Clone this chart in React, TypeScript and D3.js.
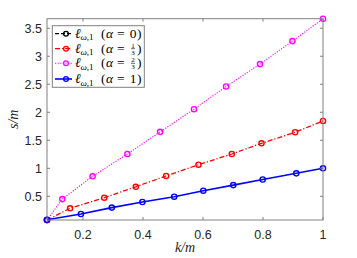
import React from 'react';
import * as d3 from 'd3';

// values (k/m, s/m)
const kAlpha0 = [0.08];
const sAlpha0 = [0.077];
const kAlpha13 = [0.08, 0.157, 0.271, 0.376, 0.477, 0.585, 0.696, 0.795, 0.907, 1.0];
const sAlpha13 = [0.077, 0.286, 0.475, 0.67, 0.863, 1.064, 1.255, 1.446, 1.643, 1.845];
const kAlpha23 = [0.08, 0.131, 0.232, 0.348, 0.457, 0.57, 0.677, 0.79, 0.898, 1.0];
const sAlpha23 = [0.077, 0.45, 0.857, 1.255, 1.65, 2.055, 2.46, 2.86, 3.27, 3.67];
const kAlpha1 = [0.08, 0.193, 0.296, 0.398, 0.504, 0.601, 0.701, 0.799, 0.911, 1.0];
const sAlpha1 = [0.08, 0.184, 0.298, 0.398, 0.493, 0.6, 0.7, 0.8, 0.91, 1.0];

const xTicks = [0.2, 0.4, 0.6, 0.8, 1];
const yTicks = [0.5, 1, 1.5, 2, 2.5, 3, 3.5];
const alphaNum = ['0', '1', '2', '1'];
const alphaDen = [null, '3', '3', null];

const width = 357;
const height = 258;
const left = 47, right = 323, top = 18.7, bottom = 220;

type Series = { k: number[]; s: number[]; color: string; dash: string; lw: number };

const series: Series[] = [
  { k: kAlpha0, s: sAlpha0, color: '#000000', dash: '4,2', lw: 1.3 },
  { k: kAlpha13, s: sAlpha13, color: '#ff0000', dash: '5,2,1.2,2', lw: 1.3 },
  { k: kAlpha23, s: sAlpha23, color: '#ff00ff', dash: '1.2,1.4', lw: 1.1 },
  { k: kAlpha1, s: sAlpha1, color: '#0000ff', dash: '', lw: 1.6 },
];

const App: React.FC = () => {
  const x = d3.scaleLinear().domain([0.08, 1]).range([left, right]);
  const y = d3.scaleLinear().domain([0.077, 3.67]).range([bottom, top]);
  const line = d3
    .line<[number, number]>()
    .x((d) => x(d[0]))
    .y((d) => y(d[1]));
  const axisColor = '#808080';
  const tickColor = '#262626';
  const serif = '"Liberation Serif", "DejaVu Serif", serif';
  const sans = '"Liberation Sans", Arial, sans-serif';
  const legendY = [33.7, 48.7, 63.3, 79];

  return (
    <svg width={width} height={height} style={{ position: 'absolute', left: 0, top: 0, background: '#fff' }}>
      <rect x={0} y={0} width={width} height={height} fill="#fff" />

      {series.map((sr, i) => {
        const pts = sr.k.map((k, j) => [k, sr.s[j]] as [number, number]);
        return (
          <g key={i}>
            <path d={line(pts) || ''} fill="none" stroke={sr.color} strokeWidth={sr.lw} strokeDasharray={sr.dash} />
            {pts.map((p, j) => (
              <circle key={j} cx={x(p[0])} cy={y(p[1])} r={2.6} fill="none" stroke={sr.color} strokeWidth={1.4} />
            ))}
          </g>
        );
      })}

      {/* axes box */}
      <rect x={left} y={top} width={right - left} height={bottom - top} fill="none" stroke={axisColor} strokeWidth={1} />
      {xTicks.map((t) => (
        <g key={'x' + t}>
          <line x1={x(t)} x2={x(t)} y1={bottom} y2={bottom - 3} stroke={axisColor} />
          <line x1={x(t)} x2={x(t)} y1={top} y2={top + 3} stroke={axisColor} />
          <text x={x(t)} y={238.5} textAnchor="middle" fontFamily={sans} fontSize={12.5} fill={tickColor}>
            {String(t)}
          </text>
        </g>
      ))}
      {yTicks.map((t) => (
        <g key={'y' + t}>
          <line x1={left} x2={left + 3} y1={y(t)} y2={y(t)} stroke={axisColor} />
          <line x1={right} x2={right - 3} y1={y(t)} y2={y(t)} stroke={axisColor} />
          <text x={42} y={y(t) + 4.5} textAnchor="end" fontFamily={sans} fontSize={12.5} fill={tickColor}>
            {String(t)}
          </text>
        </g>
      ))}

      {/* axis labels */}
      <text x={(left + right) / 2} y={252} textAnchor="middle" fontFamily={serif} fontSize={14} fontStyle="italic" fill={tickColor}>
        k/m
      </text>
      <text
        transform={`translate(18,${(top + bottom) / 2}) rotate(-90)`}
        textAnchor="middle"
        fontFamily={serif}
        fontSize={14}
        fontStyle="italic"
        fill={tickColor}
      >
        s/m
      </text>

      {/* legend */}
      <rect x={52.3} y={25.7} width={92} height={61.6} fill="#fff" stroke={axisColor} strokeWidth={1} />
      {series.map((sr, i) => {
        const ly = legendY[i];
        const base = ly + 4;
        return (
          <g key={'l' + i} fontFamily={serif} fill="#000">
            <line x1={55} x2={72} y1={ly} y2={ly} stroke={sr.color} strokeWidth={sr.lw} strokeDasharray={sr.dash} />
            <circle cx={66} cy={ly} r={2.4} fill="none" stroke={sr.color} strokeWidth={1.3} />
            <text x={75} y={base} fontSize={13.5} fontStyle="italic">ℓ</text>
            <text x={80.5} y={base + 2.5} fontSize={9}>
              <tspan fontStyle="italic">ω</tspan>,1
            </text>
            <text x={101} y={base} fontSize={13.5}>(</text>
            <text x={106} y={base} fontSize={13.5} fontStyle="italic">α</text>
            <text x={117} y={base} fontSize={13.5}>=</text>
            {alphaDen[i] ? (
              <>
                <text x={133} y={ly - 1.2} fontSize={7} textAnchor="middle">{alphaNum[i]}</text>
                <line x1={131} x2={135} y1={ly} y2={ly} stroke="#000" strokeWidth={0.6} />
                <text x={133} y={ly + 5.8} fontSize={7} textAnchor="middle">{alphaDen[i]}</text>
              </>
            ) : (
              <text x={133} y={base} fontSize={13.5} textAnchor="middle">{alphaNum[i]}</text>
            )}
            <text x={137} y={base} fontSize={13.5}>)</text>
          </g>
        );
      })}
    </svg>
  );
};

export default App;
